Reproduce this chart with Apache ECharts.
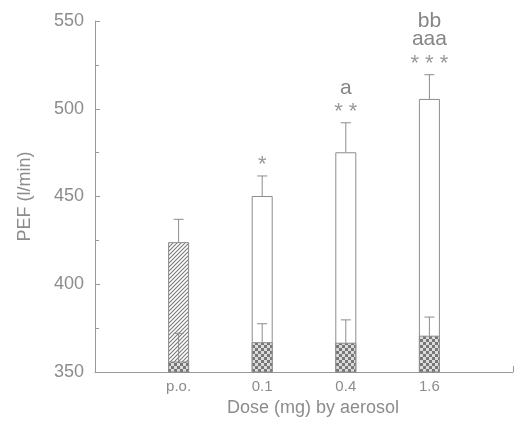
<!DOCTYPE html>
<html>
<head>
<meta charset="utf-8">
<script src="https://cdn.jsdelivr.net/npm/echarts@6/dist/echarts.min.js"></script>
<style>
  html, body { margin: 0; padding: 0; background: #fff; }
  #chart { width: 522px; height: 427px; }
</style>
</head>
<body>
<div id="chart"></div>
<script>
// dose groups along x
var categories = ['p.o.', '0.1', '0.4', '1.6'];
// PEF after treatment (l/min), mean and SEM
var treatedMean = [424, 450.3, 475.2, 505.6];
var treatedSem = [13, 11.4, 16.8, 13.8];
// baseline PEF (l/min), mean and SEM
var baselineMean = [356, 367, 366.7, 370.7];
var baselineSem = [16, 10.5, 13, 10.6];
// significance marks, bottom line first
var annotations = [[], ['*'], ['**', 'a'], ['***', 'aaa', 'bb']];

var grey = '#8c8c8c';
var font = '"Liberation Sans", Arial, sans-serif';

function makeHatch() {
  var c = document.createElement('canvas');
  c.width = 4; c.height = 4;
  var ctx = c.getContext('2d');
  ctx.fillStyle = '#fff';
  ctx.fillRect(0, 0, 4, 4);
  ctx.strokeStyle = '#7a7a7a';
  ctx.lineWidth = 1.1;
  ctx.beginPath();
  ctx.moveTo(-1, 5); ctx.lineTo(5, -1);
  ctx.moveTo(3, 5); ctx.lineTo(5, 3);
  ctx.moveTo(-1, 1); ctx.lineTo(1, -1);
  ctx.stroke();
  return c;
}

function makeCross() {
  var c = document.createElement('canvas');
  c.width = 6; c.height = 6;
  var ctx = c.getContext('2d');
  ctx.fillStyle = '#777';
  ctx.fillRect(0, 0, 6, 6);
  ctx.fillStyle = '#dcdcdc';
  ctx.fillRect(0, 0, 3, 3);
  ctx.fillRect(3, 3, 3, 3);
  return c;
}

var hatch = { image: makeHatch(), repeat: 'repeat' };
var cross = { image: makeCross(), repeat: 'repeat' };

var xData = [''].concat(categories, ['']);

var treatedBars = [null];
var baselineBars = [null];
var treatedErr = [];
var baselineErr = [];
for (var i = 0; i < categories.length; i++) {
  treatedBars.push(i === 0
    ? { value: treatedMean[i], itemStyle: { color: hatch } }
    : treatedMean[i]);
  baselineBars.push(baselineMean[i]);
  treatedErr.push([i + 1, treatedMean[i], treatedSem[i], i]);
  baselineErr.push([i + 1, baselineMean[i], baselineSem[i], -1]);
}
treatedBars.push(null);
baselineBars.push(null);

function renderErr(params, api) {
  var x = api.value(0);
  var mean = api.value(1);
  var sem = api.value(2);
  var k = api.value(3);
  var p0 = api.coord([x, mean]);
  var p1 = api.coord([x, mean + sem]);
  var children = [
    { type: 'line', shape: { x1: p0[0], y1: p0[1], x2: p1[0], y2: p1[1] },
      style: { stroke: grey, lineWidth: 1 } },
    { type: 'line', shape: { x1: p1[0] - 5, y1: p1[1], x2: p1[0] + 5, y2: p1[1] },
      style: { stroke: grey, lineWidth: 1 } }
  ];
  var marks = k >= 0 ? annotations[k] : [];
  for (var j = 0; j < marks.length; j++) {
    var star = marks[j].indexOf('*') >= 0;
    children.push({
      type: 'text',
      style: {
        text: star ? marks[j].split('').join(' ') : marks[j],
        x: p1[0],
        y: p1[1] - 17 - j * 18 + (star ? 6 : 0),
        align: 'center',
        verticalAlign: 'middle',
        fill: star ? '#999' : '#858585',
        font: (star ? '22px ' : '21px ') + font
      }
    });
  }
  return { type: 'group', children: children };
}

var chart = echarts.init(document.getElementById('chart'));
chart.setOption({
  animation: false,
  backgroundColor: '#fff',
  grid: { left: 95, right: 9, top: 21, bottom: 55 },
  xAxis: {
    type: 'category',
    data: xData,
    boundaryGap: false,
    name: 'Dose (mg) by aerosol',
    nameLocation: 'middle',
    nameGap: 25,
    nameTextStyle: { color: grey, fontSize: 18, fontFamily: font, padding: [0, 0, 0, 18] },
    axisLine: { lineStyle: { color: '#999', width: 1 } },
    axisTick: {
      show: true, inside: true, length: 6,
      interval: function (idx) { return idx === xData.length - 1; },
      lineStyle: { color: '#999' }
    },
    axisLabel: { color: grey, fontSize: 15, fontFamily: font, margin: 7, interval: 0 },
    splitLine: { show: false }
  },
  yAxis: {
    type: 'value',
    min: 350,
    max: 550,
    interval: 50,
    name: 'PEF (l/min)',
    nameLocation: 'middle',
    nameGap: 61,
    nameTextStyle: { color: grey, fontSize: 18, fontFamily: font },
    axisLine: { show: true, lineStyle: { color: '#999', width: 1 } },
    axisTick: { show: true, inside: true, length: 5, lineStyle: { color: '#999' } },
    minorTick: { show: true, splitNumber: 2, length: 4, lineStyle: { color: '#999' } },
    axisLabel: { color: grey, fontSize: 18, fontFamily: font, margin: 11 },
    splitLine: { show: false }
  },
  series: [
    {
      name: 'treated',
      type: 'bar',
      data: treatedBars,
      barWidth: 21,
      barGap: '-100%',
      itemStyle: { color: '#fff', borderColor: grey, borderWidth: 1 },
      z: 2
    },
    {
      name: 'baseline',
      type: 'bar',
      data: baselineBars,
      barWidth: 21,
      barGap: '-100%',
      itemStyle: { color: cross, borderColor: grey, borderWidth: 1 },
      z: 3
    },
    {
      name: 'treatedErr',
      type: 'custom',
      renderItem: renderErr,
      data: treatedErr,
      z: 4
    },
    {
      name: 'baselineErr',
      type: 'custom',
      renderItem: renderErr,
      data: baselineErr,
      z: 5
    }
  ]
});
</script>
</body>
</html>
